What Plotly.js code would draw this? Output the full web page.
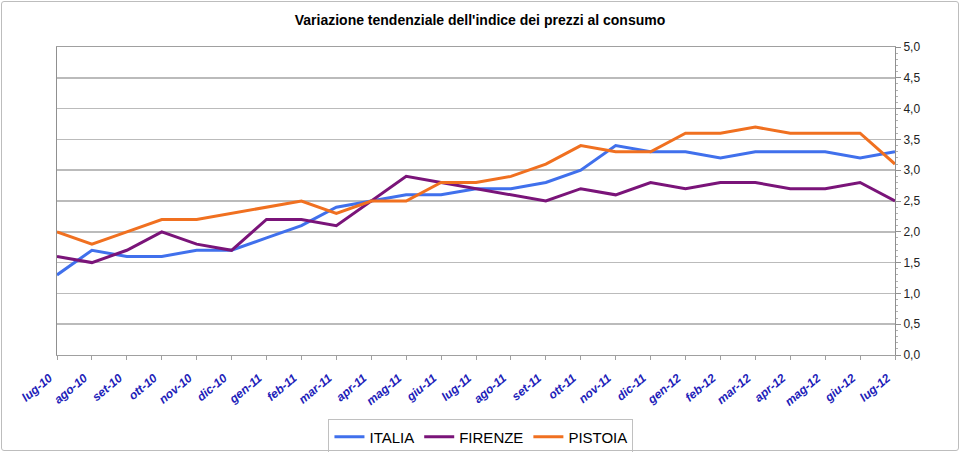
<!DOCTYPE html>
<html>
<head>
<meta charset="utf-8">
<script src="https://cdn.plot.ly/plotly-3.0.1.min.js"></script>
<style>
  html, body { margin: 0; padding: 0; background: #fff; }
  #chart { width: 960px; height: 452px; outline: 1px solid #BDBDBD; outline-offset: -2px; border-radius: 4px; }
</style>
</head>
<body>
<div id="chart"></div>
<script>
const months = ['lug-10', 'ago-10', 'set-10', 'ott-10', 'nov-10', 'dic-10',
  'gen-11', 'feb-11', 'mar-11', 'apr-11', 'mag-11', 'giu-11', 'lug-11', 'ago-11',
  'set-11', 'ott-11', 'nov-11', 'dic-11', 'gen-12', 'feb-12', 'mar-12', 'apr-12',
  'mag-12', 'giu-12', 'lug-12'];

const italia = [1.3, 1.7, 1.6, 1.6, 1.7, 1.7, 1.9, 2.1, 2.4, 2.5, 2.6, 2.6, 2.7,
  2.7, 2.8, 3.0, 3.4, 3.3, 3.3, 3.2, 3.3, 3.3, 3.3, 3.2, 3.3];
const firenze = [1.6, 1.5, 1.7, 2.0, 1.8, 1.7, 2.2, 2.2, 2.1, 2.5, 2.9, 2.8, 2.7,
  2.6, 2.5, 2.7, 2.6, 2.8, 2.7, 2.8, 2.8, 2.7, 2.7, 2.8, 2.5];
const pistoia = [2.0, 1.8, 2.0, 2.2, 2.2, 2.3, 2.4, 2.5, 2.3, 2.5, 2.5, 2.8, 2.8,
  2.9, 3.1, 3.4, 3.3, 3.3, 3.6, 3.6, 3.7, 3.6, 3.6, 3.6, 3.1];

const series = [
  { name: 'ITALIA', y: italia, color: '#4070EC' },
  { name: 'FIRENZE', y: firenze, color: '#7A1479' },
  { name: 'PISTOIA', y: pistoia, color: '#F07020' }
];

const traces = series.map(s => ({
  type: 'scatter', mode: 'lines', name: s.name,
  x: months, y: s.y,
  line: { color: s.color, width: 3 }
}));

const layout = {
  width: 960, height: 452,
  margin: { l: 57, r: 65, t: 47, b: 97 },
  separators: ',.',
  paper_bgcolor: 'rgba(0,0,0,0)', plot_bgcolor: '#fff',
  font: { family: 'Liberation Sans, Arial, sans-serif', color: '#000' },
  title: {
    text: "Variazione tendenziale dell'indice dei prezzi al consumo",
    font: { size: 14, weight: 'bold' },
    x: 0.5, xanchor: 'center', y: 0.955, yanchor: 'middle'
  },
  showlegend: true,
  legend: {
    orientation: 'h', xref: 'container', yref: 'container',
    x: 0.501, xanchor: 'center', y: 0.072, yanchor: 'top',
    bordercolor: '#C0C0C0', borderwidth: 1, font: { size: 15 },
    itemwidth: 30, tracegroupgap: 0
  },
  xaxis: {
    type: 'category', range: [0, months.length - 1], automargin: false,
    tickvals: months, ticktext: months.map(m => m + '\u00a0\u00a0\u00a0'),
    showgrid: false, zeroline: false,
    showline: true, linecolor: '#A0A0A0', mirror: true,
    ticks: 'outside', ticklen: 4, tickcolor: '#A0A0A0',
    tickangle: -40, ticklabelstandoff: 0,
    tickfont: { size: 12, color: '#2020B8', weight: 'bold', style: 'italic' }
  },
  yaxis: {
    side: 'right', range: [0, 5], tickmode: 'linear', tick0: 0, dtick: 0.5,
    tickformat: '.1f', automargin: false,
    showgrid: true, gridcolor: '#BBBBBB', gridwidth: 1.5, zeroline: false,
    showline: true, linecolor: '#909090', mirror: true,
    ticks: 'outside', ticklen: 5, tickcolor: '#909090',
    minor: { ticks: 'outside', tickmode: 'linear', dtick: 0.1, ticklen: 2, tickcolor: '#B0B0B0', showgrid: false },
    tickfont: { size: 12, color: '#222' }
  }
};

Plotly.newPlot('chart', traces, layout, { staticPlot: true });
</script>
</body>
</html>
